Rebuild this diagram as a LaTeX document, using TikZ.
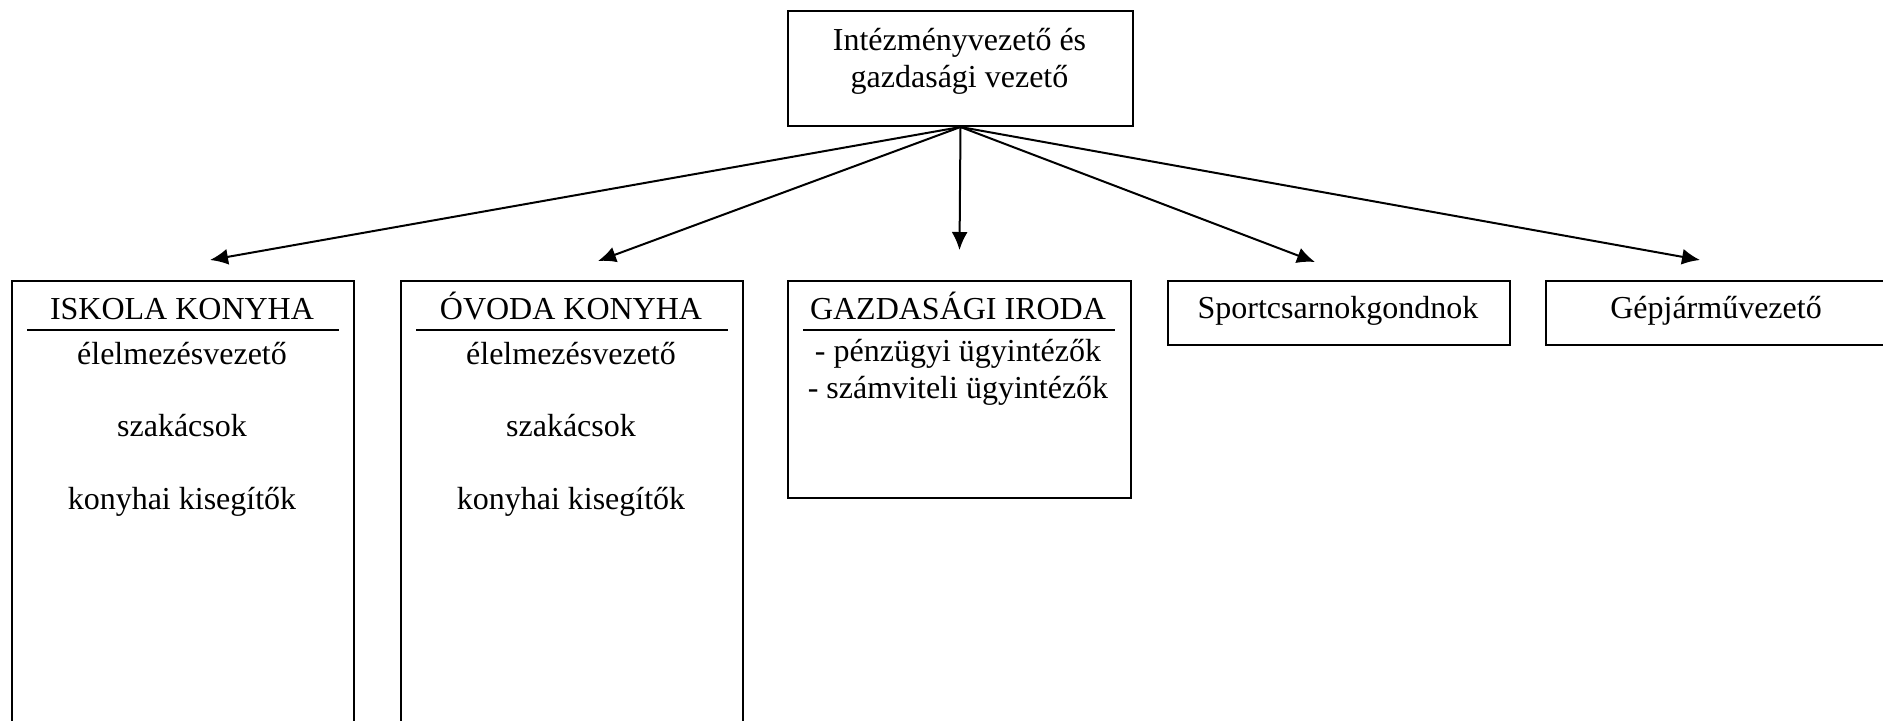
\documentclass[tikz,border=0pt]{standalone}
\usepackage{fontspec}
\setmainfont{Liberation Serif}
\usepackage{tikz}
\usetikzlibrary{positioning}
\usetikzlibrary{arrows.meta}
\tikzset{
    boxn/.style = {draw=black, line width=1pt, inner sep=0pt, anchor=north west, minimum width=171pt},
    txtn/.style = {anchor=base, inner sep=0pt, text=black, font=\fontsize{16}{18.3}\selectfont},
    edgea/.style = {-{Latex[length=9pt,width=8pt]}, line width=1pt, black},
    rulen/.style = {line width=1.2pt, black}
}
\begin{document}
\begin{tikzpicture}[x=0.5pt,y=-0.5pt]
\useasboundingbox (0,0) rectangle (1883,720);
% boxes
\node[boxn, minimum width=172.5pt, minimum height=57.5pt] at (787,10) (top) {};
\node[boxn, minimum height=235pt] at (11,280) (isk) {};
\node[boxn, minimum height=235pt] at (400,280) (ovo) {};
\node[boxn, minimum width=171.5pt, minimum height=108.5pt] at (787,280) (gaz) {};
\node[boxn, minimum height=32pt] at (1167,280) (spo) {};
\node[boxn, minimum height=32pt] at (1545,280) (gep) {};
%
\node[txtn] at (959.5,50) (topa) {Intézményvezető és};
\node[txtn] at (959.5,87) (topb) {gazdasági vezető};
%
\node[txtn] at (182,319) (iskt) {ISKOLA KONYHA};
\node[txtn] at (182,364) (iska) {élelmezésvezető};
\node[txtn] at (182,436) (iskb) {szakácsok};
\node[txtn] at (182,509) (iskc) {konyhai kisegítők};
%
\node[txtn] at (571,319) (ovot) {ÓVODA KONYHA};
\node[txtn] at (571,364) (ovoa) {élelmezésvezető};
\node[txtn] at (571,436) (ovob) {szakácsok};
\node[txtn] at (571,509) (ovoc) {konyhai kisegítők};
%
\node[txtn] at (958,319) (gazt) {GAZDASÁGI IRODA};
\node[txtn] at (958,361) (gaza) {- pénzügyi ügyintézők};
\node[txtn] at (958,398) (gazb) {- számviteli ügyintézők};
%
\node[txtn] at (1338,318) (spot) {Sportcsarnokgondnok};
\node[txtn] at (1716,318) (gept) {Gépjárművezető};
%
\draw[rulen] ([shift={(16,50)}]isk.north west) -- ([shift={(-16,50)}]isk.north east);
\draw[rulen] ([shift={(16,50)}]ovo.north west) -- ([shift={(-16,50)}]ovo.north east);
\draw[rulen] ([shift={(16,50)}]gaz.north west) -- ([shift={(-17,50)}]gaz.north east);
% arrows
\coordinate (isktip) at (210,260);
\coordinate (ovotip) at (598,261);
\coordinate (gaztip) at (959.5,250);
\coordinate (spotip) at (1315,262);
\coordinate (geptip) at (1700,260);
\draw[edgea] (top.south) -- (isktip);
\draw[edgea] (top.south) -- (ovotip);
\draw[edgea] (top.south) -- (gaztip);
\draw[edgea] (top.south) -- (spotip);
\draw[edgea] (top.south) -- (geptip);
\end{tikzpicture}
\end{document}
